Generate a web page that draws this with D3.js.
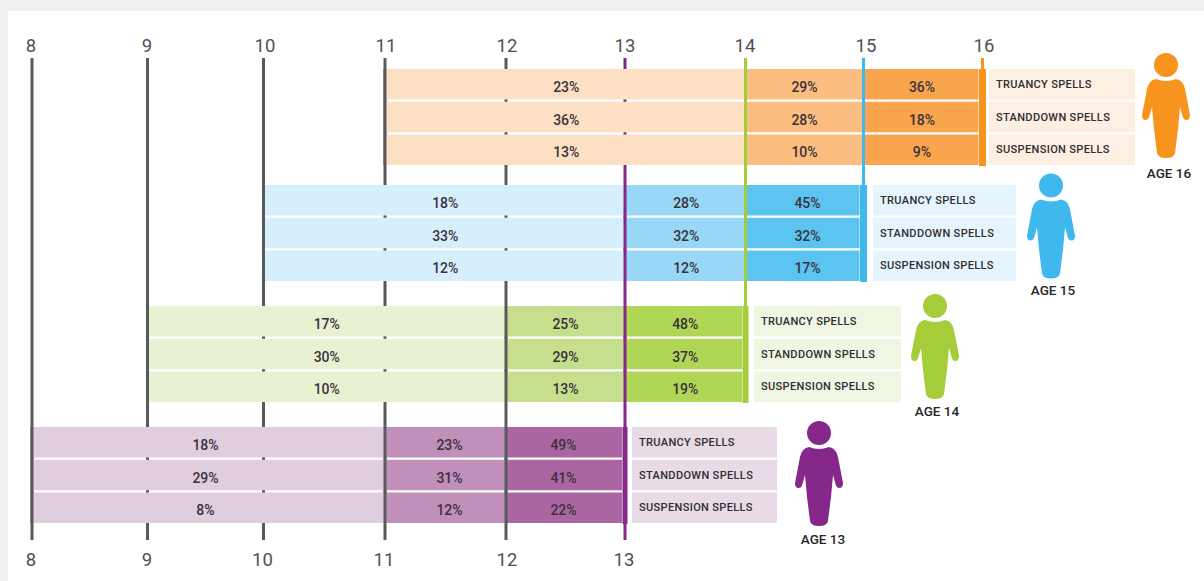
<!DOCTYPE html>
<html>
<head>
<meta charset="utf-8">
<script src="https://cdn.jsdelivr.net/npm/d3@7"></script>
<style>
html,body{margin:0;padding:0;background:#f0f0f0;}
svg{display:block;}
text{font-family:Roboto,sans-serif;}
</style>
</head>
<body>
<svg id="chart" width="1204" height="581"></svg>
<script>
// ---- data ----
const ageTicks = [8, 9, 10, 11, 12, 13, 14, 15, 16];
const metrics = ["TRUANCY SPELLS", "STANDDOWN SPELLS", "SUSPENSION SPELLS"];
const cohorts = [16, 15, 14, 13];
const age16Values = [[23, 29, 36], [36, 28, 18], [13, 10, 9]];
const age15Values = [[18, 28, 45], [33, 32, 32], [12, 12, 17]];
const age14Values = [[17, 25, 48], [30, 29, 37], [10, 13, 19]];
const age13Values = [[18, 23, 49], [29, 31, 41], [8, 12, 22]];
const cohortValues = {16: age16Values, 15: age15Values, 14: age14Values, 13: age13Values};

// ---- styles & layout ----
const W = 1204, H = 581;
const tickPx = [32, 147.5, 263.5, 385, 506, 625, 745.5, 863.5, 982.5];
const topLabelNudge = [-1, -0.5, 1.5, 1, 1, 0, -0.5, 2.5, 1.5];
const bottomLabelNudge = [-1, -0.5, -1, -1, 1, -1, 0, 0, 0];
const lineColor = {8:"#5a5a5e",9:"#5a5a5e",10:"#5a5a5e",11:"#5a5a5e",12:"#5a5a5e",13:"#86278a",14:"#a5cd39",15:"#3fb8ee",16:"#f7941e"};
const palette = {
  16:{seg:["#fddfc4","#fbbd80","#f9a54e"],box:"#fdf0e3"},
  15:{seg:["#d6effc","#98d7f6","#5cc4f1"],box:"#e6f5fd"},
  14:{seg:["#e8f1d2","#c6df8d","#b0d656"],box:"#eff6e2"},
  13:{seg:["#e0cddd","#c08fba","#ab65a3"],box:"#e8dbe6"}
};
const groupTop = {16:69, 15:185, 14:306, 13:427};
const groupH = 96;
const lineEnd = {8:540,9:540,10:540,11:540,12:540,13:540,14:403,15:282,16:166};
const thickW = {16:7, 15:7, 14:6, 13:5};
const boxStart = {16:989, 15:873, 14:754, 13:632};
const boxW = {16:146, 15:143, 14:147, 13:145};
const pctNudge = {16:[1,0,-1], 15:[1,1,3], 14:[0,0,0], 13:[-3,4,-2]};
const head = {16:[1166,65], 15:[1051,185.5], 14:[935,306], 13:[819,433]};
const ageLabel = {16:[1169,173], 15:[1053,290], 14:[937,411], 13:[823,539]};

// ---- scales ----
const x = d3.scaleLinear().domain(ageTicks).range(tickPx);
const rowScale = c => d3.scaleBand().domain(metrics).range([groupTop[c], groupTop[c] + groupH]).paddingInner(0.07).paddingOuter(0);

const svg = d3.select("#chart");
svg.append("rect").attr("x", 8).attr("y", 11).attr("width", W - 8).attr("height", H - 11).attr("fill", "#fff");

// grid lines behind the bands
svg.append("g").selectAll("line").data(ageTicks).join("line")
  .attr("x1", d => x(d)).attr("x2", d => x(d))
  .attr("y1", 58).attr("y2", d => lineEnd[d])
  .attr("stroke", d => lineColor[d]).attr("stroke-width", 3);

// axis labels
const labelFill = "#505054";
svg.append("g").selectAll("text").data(ageTicks).join("text")
  .attr("x", (d, i) => x(d) + topLabelNudge[i]).attr("y", 52)
  .attr("text-anchor", "middle").attr("font-size", 18.5).attr("fill", labelFill).text(d => d);
svg.append("g").selectAll("text").data(ageTicks.filter(d => d <= 13)).join("text")
  .attr("x", (d, i) => x(d) + bottomLabelNudge[i]).attr("y", 566)
  .attr("text-anchor", "middle").attr("font-size", 18.5).attr("fill", labelFill).text(d => d);

// person icon, drawn around its head centre
const bodyPath = "M-10,14Q0,18 10,14Q17,15 19,24L24,50Q24,55 20.5,55Q17.5,55 16.5,51L14,42L12,64L9,88Q8,93 0,93Q-8,93 -9,88L-12,64L-14,42L-16.5,51Q-17.5,55 -20.5,55Q-24,55 -24,50L-19,24Q-17,15 -10,14Z";

cohorts.forEach(c => {
  const g = svg.append("g").attr("class", "cohort-" + c);
  const y = rowScale(c);
  const edges = [c - 5, c - 2, c - 1, c];
  const thick = thickW[c];

  metrics.forEach((m, r) => {
    const row = g.append("g");
    // three age segments per row
    row.selectAll("rect").data(cohortValues[c][r]).join("rect")
      .attr("x", (d, i) => x(edges[i]))
      .attr("y", y(m))
      .attr("width", (d, i) => x(edges[i + 1]) - x(edges[i]) - (i === 2 ? thick / 2 + 0.5 : 0))
      .attr("height", y.bandwidth())
      .attr("fill", (d, i) => palette[c].seg[i]);
    row.selectAll("text").data(cohortValues[c][r]).join("text")
      .attr("x", (d, i) => (x(edges[i]) + x(edges[i + 1])) / 2 + pctNudge[c][i])
      .attr("y", y(m) + y.bandwidth() / 2 + 7.5)
      .attr("text-anchor", "middle").attr("font-size", 14).attr("font-weight", 500)
      .attr("fill", "#38323c").text(d => d + "%");
    // row label
    g.append("rect").attr("x", boxStart[c]).attr("y", y(m)).attr("width", boxW[c]).attr("height", y.bandwidth()).attr("fill", palette[c].box);
    g.append("text").attr("x", boxStart[c] + 7).attr("y", y(m) + y.bandwidth() / 2 + 3.5)
      .attr("font-size", 11).attr("font-weight", 500).attr("letter-spacing", 0.35)
      .attr("fill", "#2e2e33").text(m);
  });

  // lines that run over the bands at segment boundaries
  g.selectAll("line.over").data(edges.slice(0, 3)).join("line")
    .attr("class", "over")
    .attr("x1", d => x(d)).attr("x2", d => x(d))
    .attr("y1", groupTop[c]).attr("y2", groupTop[c] + groupH)
    .attr("stroke", d => lineColor[d]).attr("stroke-width", 3);
  // thick closing bar
  g.append("line").attr("x1", x(c)).attr("x2", x(c))
    .attr("y1", groupTop[c]).attr("y2", groupTop[c] + groupH + 1)
    .attr("stroke", lineColor[c]).attr("stroke-width", thick);

  // figure
  const p = g.append("g").attr("transform", `translate(${head[c][0]},${head[c][1]})`).attr("fill", lineColor[c]);
  p.append("circle").attr("r", 12);
  p.append("path").attr("d", bodyPath);
  g.append("text").attr("x", ageLabel[c][0]).attr("y", ageLabel[c][1] + 5)
    .attr("text-anchor", "middle").attr("font-size", 13.5).attr("font-weight", 500)
    .attr("fill", "#26262b").text("AGE " + c);
});
</script>
</body>
</html>
